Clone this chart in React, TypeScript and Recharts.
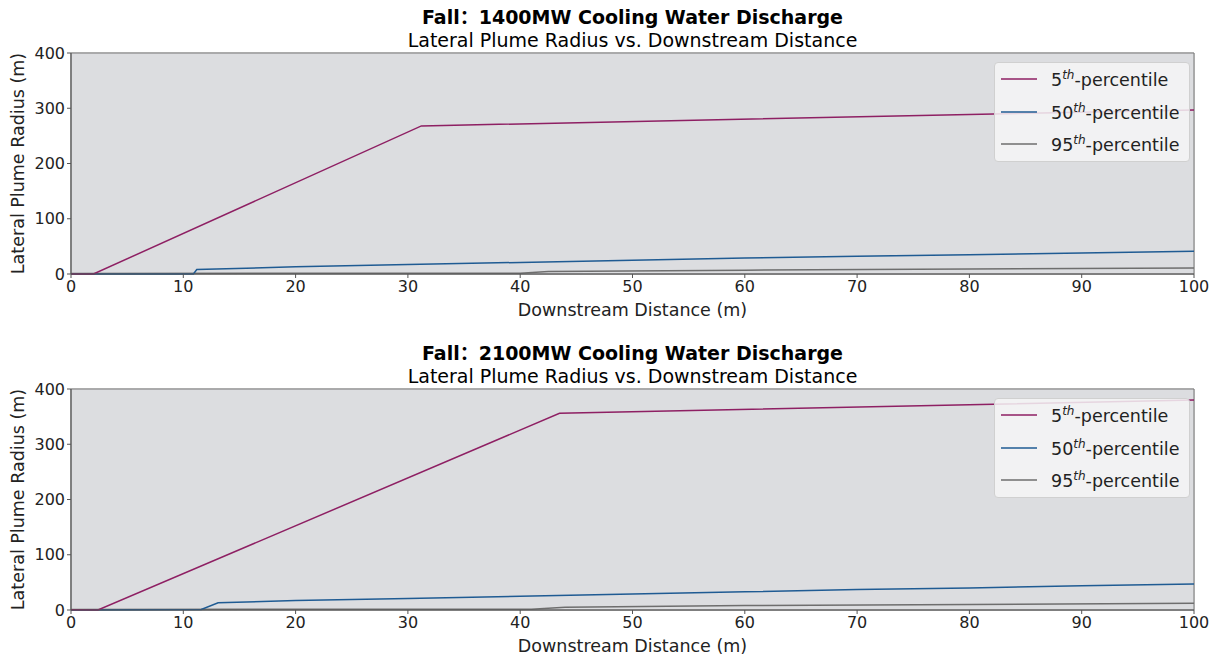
import React from "react";
import {
  LineChart,
  Line,
  XAxis,
  YAxis,
  CartesianGrid,
  ReferenceArea,
} from "recharts";

// axis ticks
const xTicks = [0, 10, 20, 30, 40, 50, 60, 70, 80, 90, 100];
const yTicks = [0, 100, 200, 300, 400];

// 1400MW case
const p5TopX = [0, 2, 31.2, 100];
const p5TopY = [0, 0, 268, 297];
const p50TopX = [0, 10.9, 11.2, 20, 30, 40, 50, 60, 70, 80, 90, 100];
const p50TopY = [0, 0, 8, 13, 17, 21, 25, 29, 32, 35, 38, 41];
const p95TopX = [0, 40, 42.5, 60, 80, 100];
const p95TopY = [1, 1.5, 4.5, 7, 9, 11];

// 2100MW case
const p5BotX = [0, 2.4, 43.5, 100];
const p5BotY = [0.5, 0, 356, 380];
const p50BotX = [0, 11.6, 13.1, 20, 30, 40, 50, 60, 70, 80, 90, 100];
const p50BotY = [0, 1, 13, 17, 21, 25, 29, 33, 37, 40, 44, 47];
const p95BotX = [0, 41, 44, 60, 80, 100];
const p95BotY = [1, 1.5, 5, 8, 10, 12];

const COLORS = { p5: "#8e1f63", p50: "#1f5b93", p95: "#6e6e6e" };
const FONT = "'DejaVu Sans', 'Noto Sans CJK SC', sans-serif";

const zip = (xs: number[], ys: number[]) => xs.map((x, i) => ({ x, y: ys[i] }));

const legendItems = [
  { num: "5", color: COLORS.p5 },
  { num: "50", color: COLORS.p50 },
  { num: "95", color: COLORS.p95 },
];

// matplotlib-style legend box, drawn over the plot area
function PercentileLegend() {
  return (
    <div
      style={{
        position: "absolute",
        left: 994,
        top: 62,
        width: 196,
        height: 100,
        background: "rgba(246,246,246,0.85)",
        border: "1px solid #d0d0d0",
        borderRadius: 4,
        fontFamily: FONT,
        fontSize: 17.5,
        color: "#222",
        boxSizing: "border-box",
      }}
    >
      {legendItems.map((it) => (
        <div key={it.num} style={{ display: "flex", alignItems: "center", height: 32.5 }}>
          <svg width={50} height={10} style={{ marginLeft: 6, flexShrink: 0 }}>
            <line x1={0} y1={5} x2={36} y2={5} stroke={it.color} strokeWidth={1.5} />
          </svg>
          <span>
            {it.num}
            <sup style={{ fontSize: 12, fontStyle: "italic" }}>th</sup>-percentile
          </span>
        </div>
      ))}
    </div>
  );
}

type PanelProps = {
  top: number;
  height: number;
  title: string;
  p5: { x: number; y: number }[];
  p50: { x: number; y: number }[];
  p95: { x: number; y: number }[];
};

function Panel({ top, height, title, p5, p50, p95 }: PanelProps) {
  return (
    <div style={{ position: "absolute", left: 0, top, width: 1218, height }}>
      <div
        style={{
          position: "absolute",
          left: 71,
          width: 1123,
          top: 6,
          textAlign: "center",
          fontFamily: FONT,
          fontSize: 19,
          fontWeight: "bold",
          lineHeight: "22px",
        }}
      >
        {title}
      </div>
      <div
        style={{
          position: "absolute",
          left: 71,
          width: 1123,
          top: 29,
          textAlign: "center",
          fontFamily: FONT,
          fontSize: 19,
          lineHeight: "22px",
        }}
      >
        Lateral Plume Radius vs. Downstream Distance
      </div>
      <LineChart
        width={1218}
        height={height}
        margin={{ top: 53, right: 24, bottom: height - 53 - 221 - 50, left: 11 }}
        style={{ fontFamily: FONT }}
      >
        <ReferenceArea x1={0} x2={100} y1={0} y2={400} fill="#dcdde0" fillOpacity={1} stroke="none" />
        <CartesianGrid stroke="#bfbfbf" strokeWidth={1} />
        <XAxis
          type="number"
          dataKey="x"
          domain={[0, 100]}
          ticks={xTicks}
          allowDuplicatedCategory={false}
          height={50}
          tickSize={4}
          tickMargin={3}
          stroke="#555"
          tick={{ fill: "#222", fontSize: 16 }}
          label={{ value: "Downstream Distance (m)", position: "insideBottom", offset: 8, fill: "#222", fontSize: 17.5 }}
        />
        <YAxis
          type="number"
          domain={[0, 400]}
          ticks={yTicks}
          width={60}
          tickSize={4}
          tickMargin={2}
          stroke="#555"
          tick={{ fill: "#222", fontSize: 16 }}
          label={{
            value: "Lateral Plume Radius (m)",
            angle: -90,
            position: "insideLeft",
            offset: 7,
            fill: "#222",
            fontSize: 17.5,
            textAnchor: "middle",
          }}
        />
        <Line data={p95} dataKey="y" stroke={COLORS.p95} strokeWidth={1.5} dot={false} isAnimationActive={false} />
        <Line data={p50} dataKey="y" stroke={COLORS.p50} strokeWidth={1.5} dot={false} isAnimationActive={false} />
        <Line data={p5} dataKey="y" stroke={COLORS.p5} strokeWidth={1.5} dot={false} isAnimationActive={false} />
        <ReferenceArea x1={0} x2={100} y1={0} y2={400} fill="none" stroke="#777" strokeWidth={1} />
      </LineChart>
      <PercentileLegend />
    </div>
  );
}

export default function App() {
  return (
    <div style={{ position: "absolute", left: 0, top: 0, width: 1218, height: 656, background: "#fff" }}>
      <Panel
        top={0}
        height={330}
        title="Fall：1400MW Cooling Water Discharge"
        p5={zip(p5TopX, p5TopY)}
        p50={zip(p50TopX, p50TopY)}
        p95={zip(p95TopX, p95TopY)}
      />
      <Panel
        top={336}
        height={320}
        title="Fall：2100MW Cooling Water Discharge"
        p5={zip(p5BotX, p5BotY)}
        p50={zip(p50BotX, p50BotY)}
        p95={zip(p95BotX, p95BotY)}
      />
    </div>
  );
}
